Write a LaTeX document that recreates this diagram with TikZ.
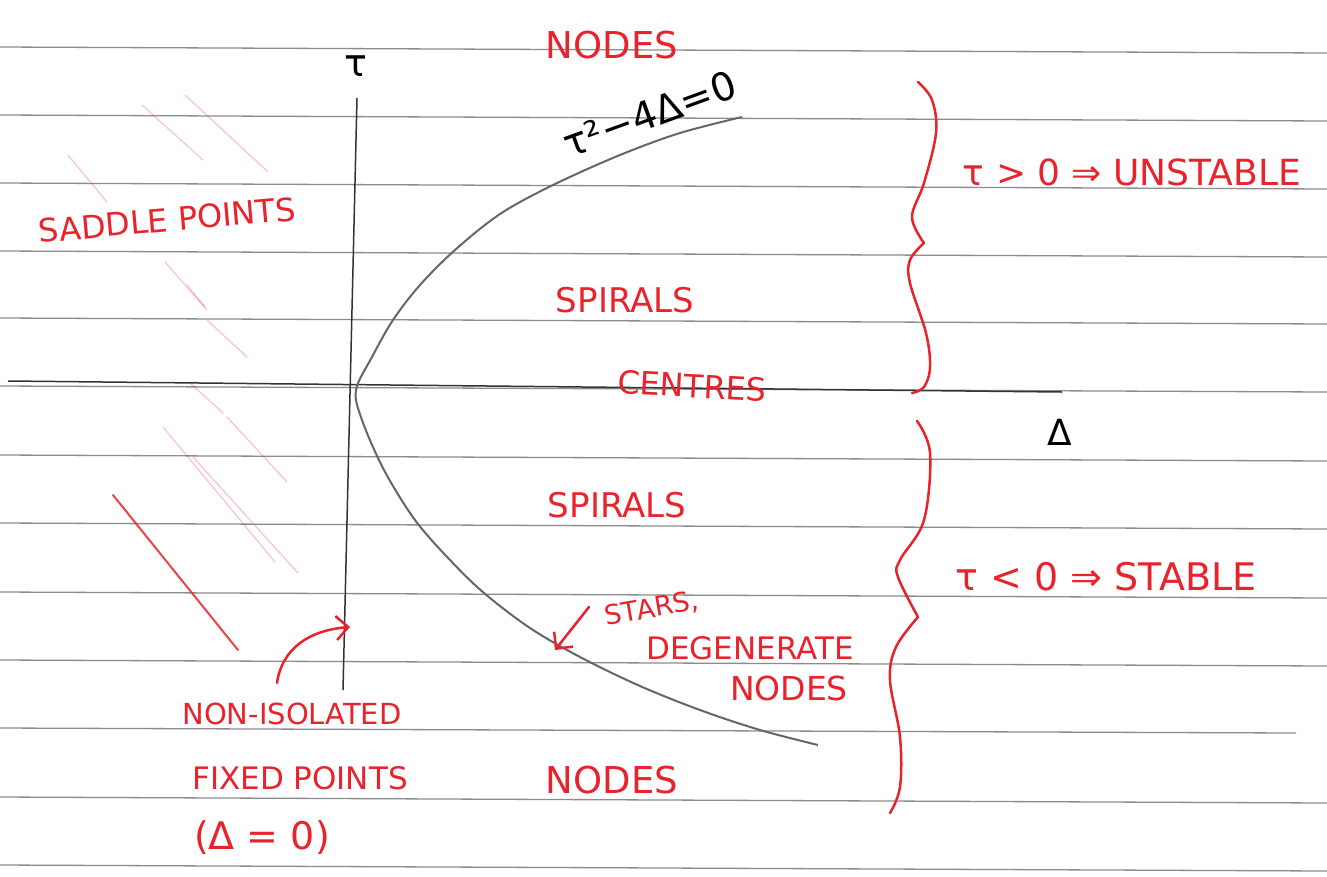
\documentclass[tikz,border=0pt]{standalone}
\usepackage{fontspec}
\setmainfont{DejaVu Sans}
\usetikzlibrary{arrows.meta}
\definecolor{ink}{HTML}{E8232B}
\definecolor{rulecol}{HTML}{8C8C8C}
\newcommand\fsz[1]{\fontsize{#1}{#1}\selectfont}
\begin{document}
\begin{tikzpicture}[x=1pt,y=-1pt,
  rul/.style={draw=rulecol,line width=1.3pt},
  ax/.style={draw=black!80,line width=1.5pt},
  curv/.style={draw=black!60,line width=2pt},
  lbl/.style={text=ink,inner sep=1pt},
  blk/.style={text=black,inner sep=1pt},
  brc/.style={draw=ink,line width=2.5pt,line cap=round},
  arr/.style={draw=ink,line width=2.5pt,line cap=round,-{Straight Barb[length=12pt,width=24pt,line width=2.5pt]}},
  hatch/.style={draw=ink,line width=1.3pt,opacity=0.25,line cap=round},
  hatchs/.style={draw=ink,line width=2pt,opacity=0.85,line cap=round},
]
\useasboundingbox[fill=white] (0,0) rectangle (1327,876);
% ruled paper lines
\foreach \y in {47,115,183,251,318,386,455,523,592,660,797,865}
  \draw[rul] (0,\y) -- (1327,\y+6);
\draw[rul] (0,728) -- (1296,733);
% faint hatching (saddle region)
\draw[hatch] (142,105) -- (203,160);
\draw[hatch] (185,95) -- (268,172);
\draw[hatch] (68,155) -- (107,202);
\draw[hatch] (165,262) -- (207,310);
\draw[hatch] (187,285) -- (205,307);
\draw[hatch] (207,320) -- (247,357);
\draw[hatch] (190,383) -- (223,413);
\draw[hatch] (227,417) -- (287,482);
\draw[hatch] (163,427) -- (275,562);
\draw[hatch] (193,457) -- (298,573);
\draw[hatchs] (113,495) -- (238,650);
% axes
\draw[ax] (8,381) -- (1062,392);
\draw[ax] (357,98) -- (343,690);
\node[blk,font=\fsz{38}] (tau) at (356,66) {τ};
\node[blk,font=\fsz{36}] (delta) at (1060,432) {Δ};
% parabola tau^2 - 4 Delta = 0
\draw[curv] plot[smooth,tension=0.55] coordinates {(742,117) (680,133) (620,155) (553,185) (500,214) (455,250) (420,285) (393,320) (372,357) (356,390) (362,420) (384,470) (415,520) (450,560) (484,593) (530,628) (580,657) (640,686) (700,710) (760,730) (818,745)};
\node[blk,font=\fsz{39},rotate=20] (eq) at (650,114) {τ²−4Δ=0};
% braces
\draw[brc] plot[smooth,tension=0.6] coordinates {(918,82) (932,100) (936,133) (924,183) (912,217) (924,243)};
\draw[brc] plot[smooth,tension=0.6] coordinates {(924,243) (910,260) (910,283) (926,333) (930,367) (924,387) (912,393)};
\draw[brc] plot[smooth,tension=0.6] coordinates {(917,421) (930,453) (924,520) (900,560) (898,577) (918,617)};
\draw[brc] plot[smooth,tension=0.6] coordinates {(918,617) (896,647) (890,680) (900,737) (900,787) (890,813)};
% labels
\node[lbl,font=\fsz{37}] (nodesTop) at (612,45) {NODES};
\node[lbl,font=\fsz{32},rotate=5] (saddle) at (167,220) {SADDLE POINTS};
\node[lbl,font=\fsz{34}] (spiralsU) at (625,300) {SPIRALS};
\node[lbl,font=\fsz{32},rotate=-3] (centres) at (692,386) {CENTRES};
\node[lbl,font=\fsz{34}] (spiralsL) at (617,505) {SPIRALS};
\node[lbl,font=\fsz{36}] (unstable) at (1132,172) {τ > 0 ⇒ UNSTABLE};
\node[lbl,font=\fsz{38}] (stable) at (1106,577) {τ < 0 ⇒ STABLE};
\node[lbl,font=\fsz{27},rotate=10] (stars) at (652,609) {STARS,};
\node[lbl,font=\fsz{31}] (degen) at (750,648) {DEGENERATE};
\node[lbl,font=\fsz{33}] (nodesDeg) at (789,688) {NODES};
\node[lbl,font=\fsz{37}] (nodesBot) at (612,780) {NODES};
\node[lbl,font=\fsz{29}] (noniso) at (292,714) {NON-ISOLATED};
\node[lbl,font=\fsz{31}] (fixed) at (300,778) {FIXED POINTS};
\node[lbl,font=\fsz{38}] (dzero) at (262,838) {(Δ = 0)};
% arrows
\coordinate (starsFrom) at (589,607);
\coordinate (starsTip) at (555,650);
\draw[arr] (starsFrom) -- (starsTip);
\coordinate (nisoFrom) at (277,683);
\coordinate (nisoTip) at (350,627);
\draw[arr] (nisoFrom) .. controls (282,648) and (310,630) .. (nisoTip);
\end{tikzpicture}
\end{document}
